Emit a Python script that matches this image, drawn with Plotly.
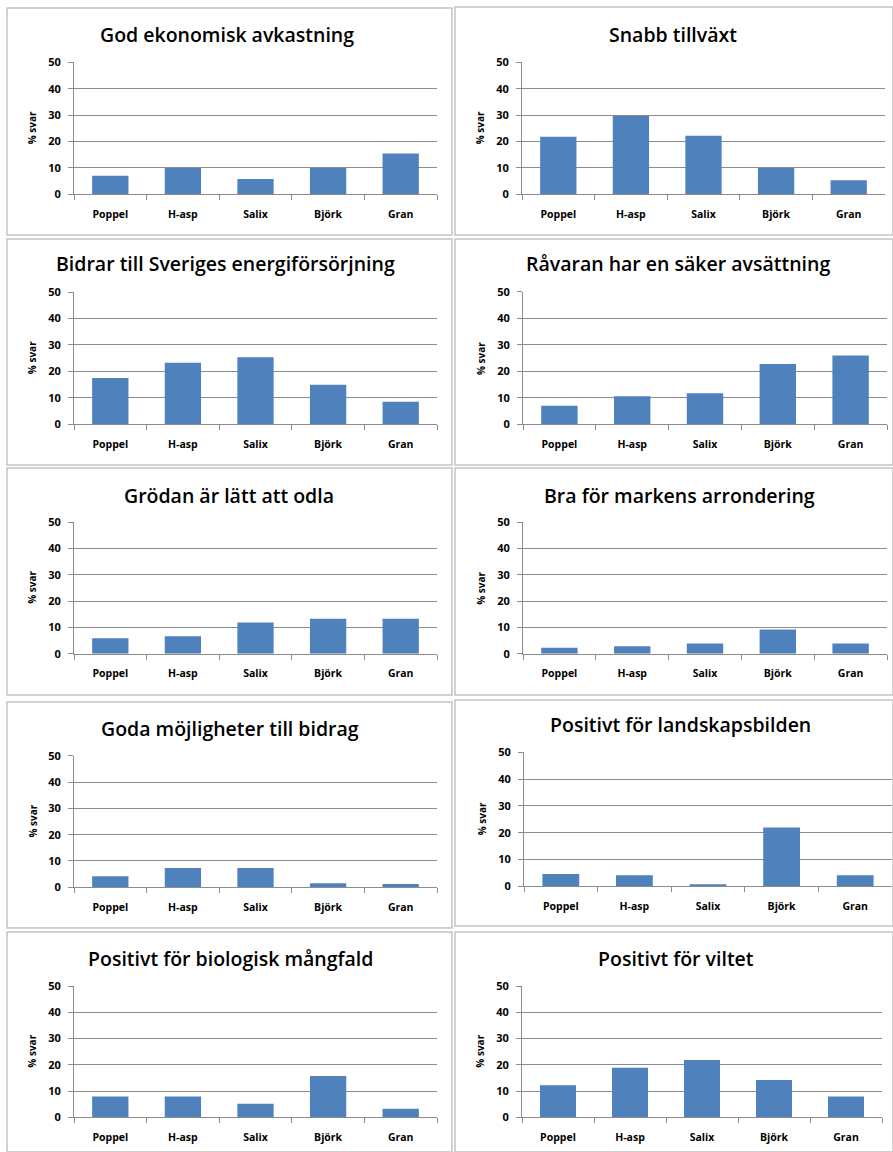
import plotly.graph_objects as go

# ---------------- data ----------------
categories = ["Poppel", "H-asp", "Salix", "Björk", "Gran"]
y_ticks = [0, 10, 20, 30, 40, 50]
y_axis_label = "% svar"

titles = [
    "God ekonomisk avkastning",
    "Snabb tillväxt",
    "Bidrar till Sveriges energiförsörjning",
    "Råvaran har en säker avsättning",
    "Grödan är lätt att odla",
    "Bra för markens arrondering",
    "Goda möjligheter till bidrag",
    "Positivt för landskapsbilden",
    "Positivt för biologisk mångfald",
    "Positivt för viltet",
]

god_ekonomisk_avkastning = [7.0, 10.0, 5.8, 10.0, 15.5]
snabb_tillvaxt = [21.8, 29.7, 22.2, 10.0, 5.3]
bidrar_energiforsorjning = [17.5, 23.3, 25.3, 14.9, 8.5]
ravaran_saker_avsattning = [7.0, 10.6, 11.7, 22.7, 25.9]
grodan_latt_att_odla = [5.9, 6.6, 11.8, 13.3, 13.3]
bra_for_arrondering = [2.3, 2.8, 3.9, 9.2, 3.9]
goda_mojligheter_bidrag = [4.2, 7.3, 7.3, 1.5, 1.3]
positivt_landskapsbilden = [4.6, 4.1, 0.6, 21.9, 4.1]
positivt_biologisk_mangfald = [7.9, 7.9, 5.2, 15.7, 3.3]
positivt_viltet = [12.2, 18.9, 21.8, 14.2, 7.9]

series = [
    god_ekonomisk_avkastning,
    snabb_tillvaxt,
    bidrar_energiforsorjning,
    ravaran_saker_avsattning,
    grodan_latt_att_odla,
    bra_for_arrondering,
    goda_mojligheter_bidrag,
    positivt_landskapsbilden,
    positivt_biologisk_mangfald,
    positivt_viltet,
]

# ---------------- layout (pixels) ----------------
W, H = 893, 1152
# plot areas: (left, right, top, bottom)
plot_boxes = [
    (74, 437, 62.3, 194.3),
    (522, 885, 62.3, 194.3),
    (74, 437, 292, 424.3),
    (523, 887, 291.7, 424.3),
    (74, 437, 522, 653.7),
    (523, 887, 522, 653.7),
    (74, 437, 755.7, 887.3),
    (524, 892, 752.3, 886.3),
    (74, 437, 986, 1117.3),
    (522, 882, 986, 1117.3),
]
# panel frames: (left, right, top, bottom)
frames = [
    (7, 452, 8, 235),
    (455, 900, 7, 235),
    (7, 452, 239, 465),
    (455, 900, 239, 465),
    (7, 452, 468, 695),
    (455, 900, 468, 695),
    (7, 452, 702, 928),
    (455, 900, 700, 926),
    (7, 452, 932, 1160),
    (455, 900, 932, 1160),
]
title_x = [227, 673, 225, 678, 229, 679, 230, 680, 230, 676]
title_y = [35, 35, 263, 263, 495, 495, 728, 724, 958, 958]

BAR = "#4F81BD"
GRID = "#8C8C8C"
FONT = "Open Sans"

def px(x):
    return x / W

def py(y):
    return 1 - y / H

fig = go.Figure()
layout = dict(
    width=W, height=H,
    margin=dict(l=0, r=0, t=0, b=0, pad=0),
    paper_bgcolor="white",
    plot_bgcolor="white",
    showlegend=False,
    bargap=0.5,
    font=dict(family=FONT, color="black"),
)
annotations = []
shapes = []

for i, (vals, title) in enumerate(zip(series, titles)):
    n = i + 1
    xa = "x" if n == 1 else f"x{n}"
    ya = "y" if n == 1 else f"y{n}"
    fig.add_trace(go.Bar(x=categories, y=vals, xaxis=xa, yaxis=ya,
                         marker=dict(color=BAR, line=dict(width=0)),
                         hoverinfo="x+y"))
    l, r, t, b = plot_boxes[i]
    xkey = "xaxis" if n == 1 else f"xaxis{n}"
    ykey = "yaxis" if n == 1 else f"yaxis{n}"
    layout[xkey] = dict(
        domain=[px(l), px(r)], anchor=ya, automargin=False,
        showline=True, linecolor=GRID, linewidth=1,
        ticks="outside", tickson="boundaries", ticklen=5, tickcolor=GRID,
        showgrid=False, ticklabelstandoff=10,
        tickfont=dict(family=FONT, size=10.5, color="black", weight="bold"),
        fixedrange=True,
    )
    layout[ykey] = dict(
        domain=[py(b), py(t)], anchor=xa, automargin=False,
        range=[0, 50], tickvals=y_ticks,
        showline=True, linecolor=GRID, linewidth=1,
        ticks="outside", ticklen=5, tickcolor=GRID,
        showgrid=True, gridcolor=GRID, gridwidth=1, zeroline=False,
        ticklabelstandoff=5,
        tickfont=dict(family=FONT, size=11, color="black", weight="bold"),
        fixedrange=True,
    )
    # chart title
    annotations.append(dict(
        text=title, xref="paper", yref="paper",
        x=px(title_x[i]), y=py(title_y[i]),
        xanchor="center", yanchor="middle", showarrow=False,
        font=dict(family=FONT, size=19.5, color="black", weight=600),
    ))
    # y-axis title
    annotations.append(dict(
        text=y_axis_label, xref="paper", yref="paper",
        x=px(l - 42), y=py((t + b) / 2),
        xanchor="center", yanchor="middle", showarrow=False, textangle=-90,
        font=dict(family=FONT, size=10, color="black", weight="bold"),
    ))
    fl, fr, ft, fb = frames[i]
    shapes.append(dict(type="rect", xref="paper", yref="paper",
                       x0=px(fl), x1=px(min(fr, W)), y0=py(min(fb, H)), y1=py(ft),
                       line=dict(color="#C4C4C4", width=1.5),
                       fillcolor="rgba(0,0,0,0)", layer="below"))

layout["annotations"] = annotations
layout["shapes"] = shapes
fig.update_layout(**layout)

fig.write_html(
    "out.html",
    post_script=("document.documentElement.style.margin='0';"
                 "document.body.style.margin='0';"
                 "document.documentElement.style.overflow='hidden';"
                 "document.body.style.overflow='hidden';"),
    config={"displayModeBar": False},
)
